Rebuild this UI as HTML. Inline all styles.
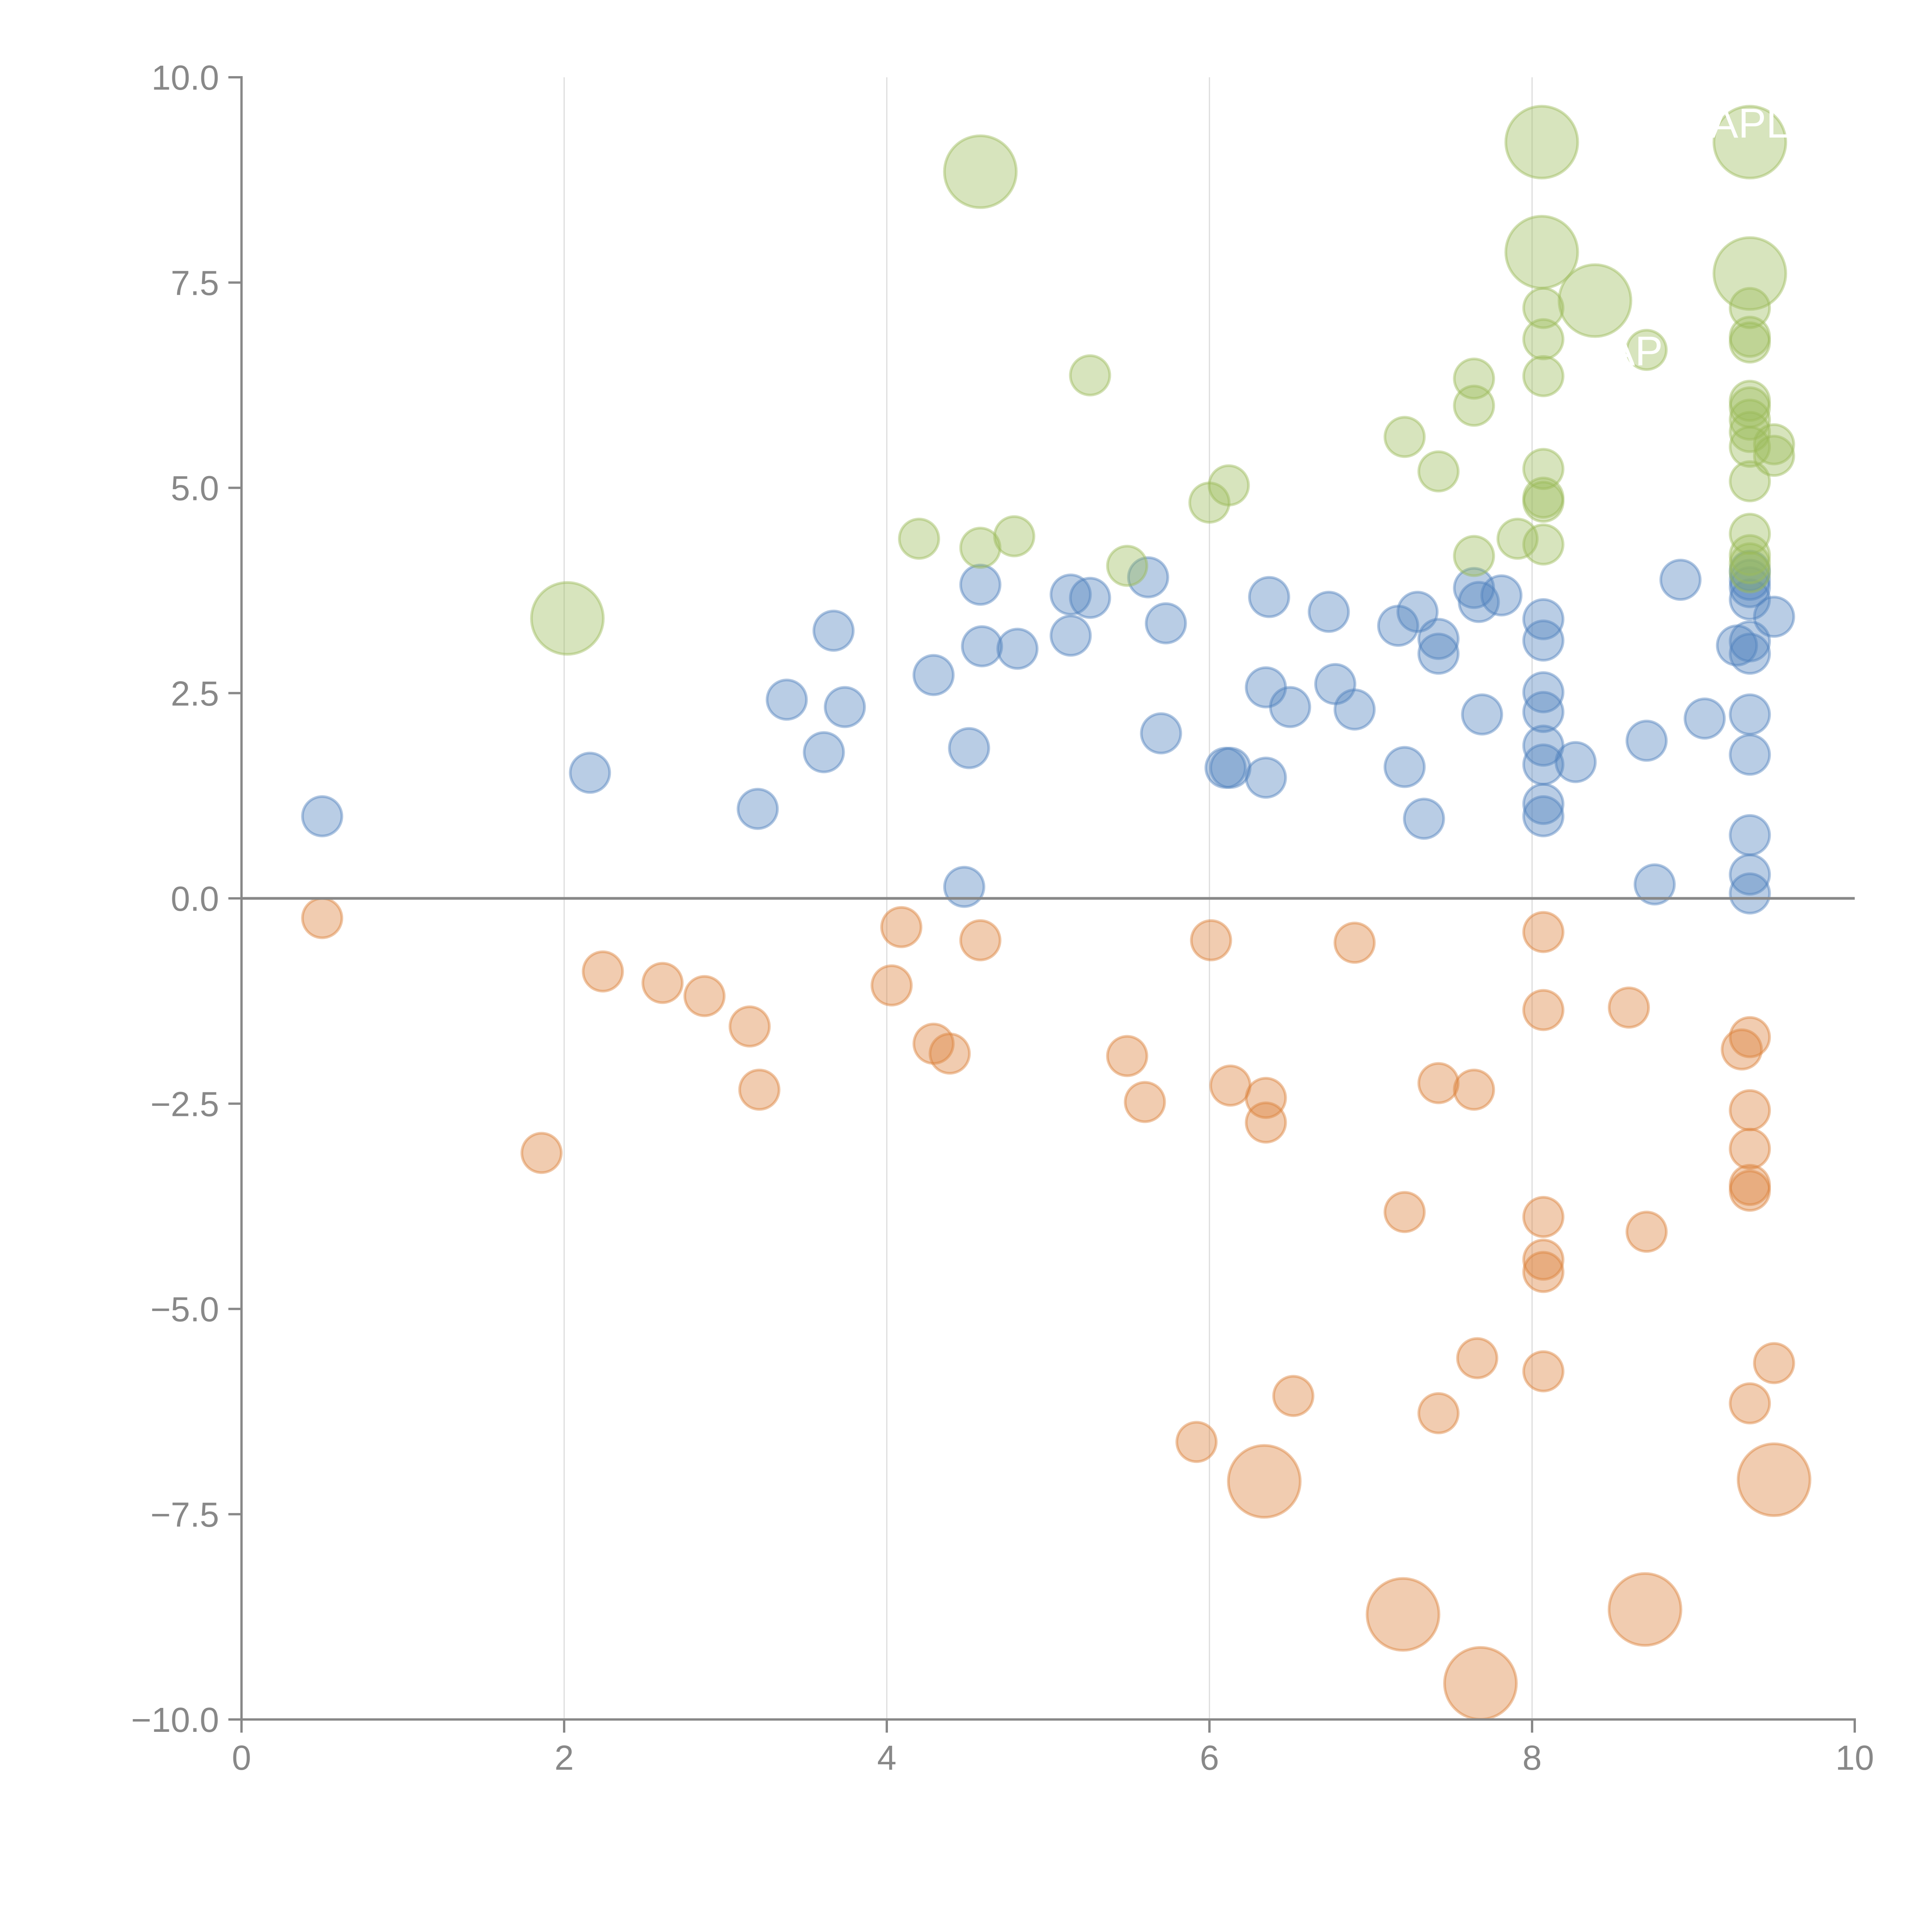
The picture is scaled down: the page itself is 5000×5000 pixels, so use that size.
<!DOCTYPE html>
<html><head><meta charset="utf-8">
<style>html,body{margin:0;padding:0;background:#fff;}svg{display:block;}</style>
</head><body>
<svg id="chart" xmlns="http://www.w3.org/2000/svg" width="5000" height="5000" viewBox="0 0 5000 5000" style="font-family:'Liberation Sans',sans-serif">
<rect width="5000" height="5000" fill="#fff"/>
<g id="grid"></g>
<g id="marks"></g>
<g id="axes"></g>
<g id="labels"></g>
</svg>
<script>
const blueX=[0.50,2.16,3.20,3.38,3.61,3.67,3.74,4.29,4.51,4.48,4.58,4.59,4.81,5.14,5.14,5.26,5.62,5.73,5.70,6.10,6.13,6.35,6.37,6.35,6.50,6.74,6.78,6.90,7.17,7.29,7.21,7.33,7.42,7.42,7.64,7.67,7.81,7.69,8.07,8.07,8.07,8.07,8.07,8.07,8.07,8.07,8.27,8.71,8.76,8.92,9.07,9.27,9.35,9.35,9.35,9.35,9.35,9.35,9.35,9.35,9.35,9.35,9.35,9.50];
const blueY=[1.00,1.53,1.09,2.42,1.78,3.26,2.33,2.72,1.83,0.14,3.82,3.07,3.04,3.70,3.20,3.66,3.91,3.35,2.01,1.59,1.59,1.47,3.67,2.57,2.33,3.49,2.61,2.30,3.32,3.49,1.60,0.97,3.16,2.98,3.78,3.61,3.69,2.24,3.40,3.14,2.51,2.27,1.86,1.63,1.15,1.00,1.66,1.92,0.17,3.88,2.19,3.08,3.99,3.88,3.79,3.64,3.13,2.98,2.24,1.75,0.77,0.29,0.06,3.43];
const orangeX=[0.50,1.86,2.24,2.61,2.87,3.15,3.21,4.03,4.09,4.29,4.39,4.58,5.49,5.60,6.01,6.13,6.35,6.35,6.90,7.21,7.42,7.64,8.07,8.07,8.07,8.07,8.07,8.07,8.60,8.71,9.30,9.35,9.35,9.35,9.35,9.35,9.35,9.50,7.66,7.42,6.52,5.92,6.34,9.50,7.20,8.70,7.68];
const orangeY=[-0.24,-3.10,-0.89,-1.03,-1.19,-1.56,-2.33,-1.06,-0.35,-1.77,-1.89,-0.51,-1.92,-2.48,-0.51,-2.28,-2.43,-2.73,-0.54,-3.82,-2.25,-2.33,-0.41,-1.36,-3.88,-4.40,-4.55,-5.76,-1.33,-4.06,-1.84,-1.69,-2.58,-3.05,-3.49,-3.56,-6.15,-5.66,-5.60,-6.27,-6.06,-6.62,-7.10,-7.08,-8.72,-8.66,-9.56];
const orangeS=[1,1,1,1,1,1,1,1,1,1,1,1,1,1,1,1,1,1,1,1,1,1,1,1,1,1,1,1,1,1,1,1,1,1,1,1,1,1,1,1,1,1,2,2,2,2,2];
const greenX=[2.02,4.58,5.26,4.20,4.58,4.79,5.49,6.00,6.12,7.21,7.42,7.64,7.64,7.64,7.91,8.07,8.07,8.07,8.07,8.07,8.07,8.07,8.06,8.06,8.39,8.71,9.35,9.35,9.35,9.35,9.35,9.35,9.35,9.35,9.35,9.35,9.35,9.35,9.35,9.35,9.35,9.50,9.50];
const greenY=[3.41,8.85,6.37,4.38,4.27,4.41,4.05,4.82,5.03,5.62,5.20,6.33,6.00,4.17,4.38,5.23,4.88,4.83,4.31,6.36,6.81,7.19,9.21,7.87,7.28,6.68,9.21,7.61,7.19,6.84,6.77,6.06,5.98,5.83,5.68,5.50,5.08,4.44,4.18,4.08,3.97,5.53,5.39];
const greenS=[2,2,1,1,1,1,1,1,1,1,1,1,1,1,1,1,1,1,1,1,1,1,2,2,2,1,2,2,1,1,1,1,1,1,1,1,1,1,1,1,1,1,1];
const xTicks=[0,2,4,6,8,10];
const yTicks=[10,7.5,5,2.5,0,-2.5,-5,-7.5,-10];
const yTickLabels=["10.0","7.5","5.0","2.5","0.0","\u22122.5","\u22125.0","\u22127.5","\u221210.0"];

const X0=625,X1=4800,Y0=200,Y1=4450;
const sx=v=>X0+(v-0)/(10-0)*(X1-X0);
const sy=v=>Y0+(10-v)/20*(Y1-Y0);
const rad=s=>s===2?93:51;
const NS="http://www.w3.org/2000/svg";
function mk(tag,attrs,parent){const e=document.createElementNS(NS,tag);for(const k in attrs)e.setAttribute(k,attrs[k]);parent.appendChild(e);return e;}
const grid=document.getElementById('grid'),marks=document.getElementById('marks'),axes=document.getElementById('axes'),labels=document.getElementById('labels');

xTicks.forEach(t=>{ if(t>0&&t<10){const l=mk('line',{x1:sx(t),x2:sx(t),y1:Y0,y2:Y1,stroke:'#dcdcdc','stroke-width':3},grid);

}});

function series(xs,ys,ss,rgb,name){
  xs.forEach((x,i)=>{
    const c=mk('circle',{cx:sx(x),cy:sy(ys[i]),r:rad(ss?ss[i]:1),fill:'rgba('+rgb+',0.4)',stroke:'rgba('+rgb+',0.45)','stroke-width':7},marks);
    
    
  });
}
series(blueX,blueY,null,'79,129,189','blue');
series(orangeX,orangeY,orangeS,'220,128,58','orange');
series(greenX,greenY,greenS,'155,187,89','green');

const z=mk('line',{x1:X0,x2:X1,y1:sy(0),y2:sy(0),stroke:'#888','stroke-width':7},axes);


const ya=mk('line',{x1:X0,x2:X0,y1:Y0-3,y2:Y1+3,stroke:'#888','stroke-width':6},axes);


const xa=mk('line',{x1:X0-3,x2:X1+3,y1:Y1,y2:Y1,stroke:'#888','stroke-width':6},axes);



yTicks.forEach((t,i)=>{
  const tk=mk('line',{x1:X0-34,x2:X0,y1:sy(t),y2:sy(t),stroke:'#888','stroke-width':6},axes);
  
  
  const tx=mk('text',{x:X0-58,y:sy(t)+32,'text-anchor':'end','font-size':90,fill:'#888'},axes);
  tx.textContent=yTickLabels[i];
  
  
});
xTicks.forEach(t=>{
  const tk=mk('line',{x1:sx(t),x2:sx(t),y1:Y1,y2:Y1+34,stroke:'#888','stroke-width':6},axes);
  
  
  const tx=mk('text',{x:sx(t),y:Y1+130,'text-anchor':'middle','font-size':90,fill:'#888'},axes);
  tx.textContent=String(t);
  
  
});

const l1=mk('text',{x:sx(9.35),y:sy(9.21)-12,'text-anchor':'middle','font-size':108,fill:'#fff'},labels);
l1.textContent='APL';


const l2=mk('text',{x:sx(8.71)-30,y:sy(6.68)+40,'text-anchor':'middle','font-size':108,fill:'#fff'},labels);
l2.textContent='AP';


</script>
</body></html>
